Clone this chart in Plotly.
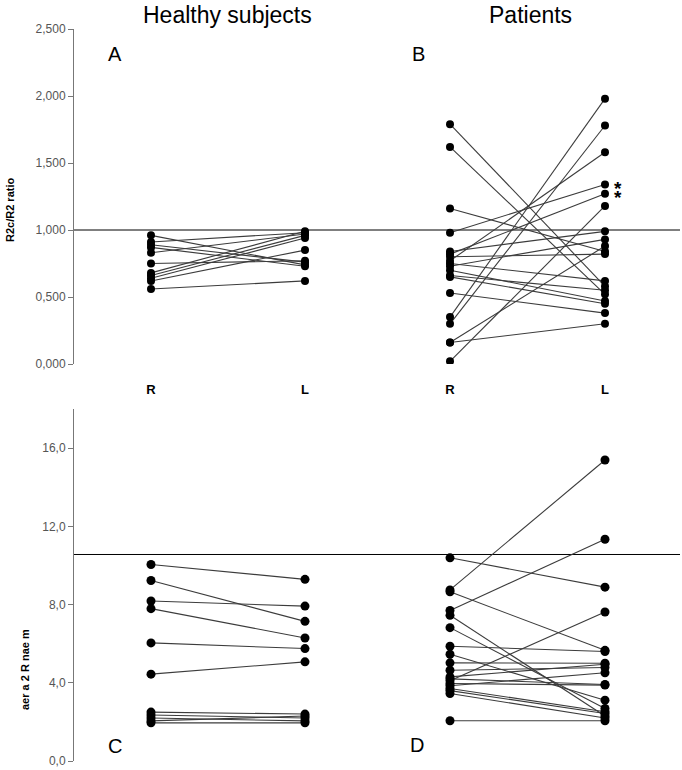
import plotly.graph_objects as go

# ---------------- data ----------------
sides = ["R", "L"]
groups = ["Healthy subjects", "Patients"]
panel_letters = ["A", "B", "C", "D"]

# R2c/R2 ratio, healthy subjects (R side, L side)
ratio_healthy_R = [0.96, 0.91, 0.89, 0.87, 0.83, 0.75, 0.68, 0.66, 0.64, 0.62, 0.56]
ratio_healthy_L = [0.74, 0.98, 0.76, 0.73, 0.97, 0.77, 0.99, 0.96, 0.94, 0.85, 0.62]

# R2c/R2 ratio, patients
ratio_pat_R = [1.79, 1.62, 1.16, 0.98, 0.84, 0.82, 0.80, 0.77, 0.75, 0.73,
               0.70, 0.66, 0.65, 0.53, 0.35, 0.30, 0.16, 0.16, 0.02]
ratio_pat_L = [0.58, 0.52, 0.84, 1.34, 0.99, 1.27, 0.82, 1.58, 0.62, 0.93,
               0.47, 0.55, 0.45, 0.38, 1.98, 1.78, 0.30, 0.88, 1.18]
starred_L = [1.34, 1.27]

# Area of R2, healthy subjects
area_healthy_R = [10.05, 9.23, 8.18, 7.79, 6.04, 4.44, 2.50, 2.35, 2.20, 2.05, 1.95]
area_healthy_L = [9.29, 7.14, 7.92, 6.29, 5.75, 5.07, 2.40, 2.20, 2.05, 2.30, 1.95]

# Area of R2, patients
area_pat_R = [10.39, 8.75, 8.65, 7.70, 7.45, 6.82, 5.87, 5.46, 5.02, 4.64,
              4.30, 4.20, 4.10, 3.96, 3.85, 3.71, 3.60, 3.45, 2.06]
area_pat_L = [8.89, 15.39, 5.66, 11.34, 2.30, 2.69, 5.60, 3.11, 5.00, 4.78,
              4.95, 3.91, 7.62, 3.88, 4.51, 2.52, 2.43, 2.20, 2.06]

ratio_ref = 1.0
area_ref = 10.56

ratio_ticks = [0.0, 0.5, 1.0, 1.5, 2.0, 2.5]
ratio_ticktext = ["0,000", "0,500", "1,000", "1,500", "2,000", "2,500"]
area_ticks = [0, 4, 8, 12, 16]
area_ticktext = ["0,0", "4,0", "8,0", "12,0", "16,0"]

ratio_title = "R2c/R2 ratio"
area_title = "aer a 2 R nae m"

# ---------------- figure ----------------
W, H = 682, 770
ML, MR, MT, MB = 74, 2, 29, 9
PW, PH = W - ML - MR, H - MT - MB


def px_x(p):
    return (p - ML) / PW


def px_y(p):
    return (H - MB - p) / PH


fig = go.Figure()

FONT = "Liberation Sans, Arial, sans-serif"
LINE_C = "#3c3c3c"


def pair_trace(rv, lv, xa, ya, msize):
    xs, ys = [], []
    for r, l in zip(rv, lv):
        xs += [sides[0], sides[1], None]
        ys += [r, l, None]
    return go.Scatter(x=xs, y=ys, mode="lines+markers", xaxis=xa, yaxis=ya,
                      line=dict(color=LINE_C, width=1.1),
                      marker=dict(color="black", size=msize),
                      showlegend=False, hoverinfo="skip", connectgaps=False)


fig.add_trace(pair_trace(ratio_healthy_R, ratio_healthy_L, "x", "y", 8))
fig.add_trace(pair_trace(ratio_pat_R, ratio_pat_L, "x2", "y2", 8))
fig.add_trace(pair_trace(area_healthy_R, area_healthy_L, "x3", "y3", 9))
fig.add_trace(pair_trace(area_pat_R, area_pat_L, "x4", "y4", 9))

left_dom = [0, px_x(380)]
right_dom = [px_x(380), 1]
top_dom = [px_y(364), 1]
bot_dom = [0, px_y(409)]

left_range = [-(151 - ML) / 154, 1 + (380 - 305) / 154]
right_range = [-(450 - 380) / 155, 1 + (680 - 605) / 155]

xcommon = dict(type="category", categoryorder="array", categoryarray=sides,
               showgrid=False, zeroline=False, showline=False, ticks="",
               fixedrange=True)

fig.update_layout(
    width=W, height=H,
    margin=dict(l=ML, r=MR, t=MT, b=MB),
    paper_bgcolor="white", plot_bgcolor="white",
    font=dict(family=FONT),
    xaxis=dict(domain=left_dom, range=left_range, anchor="y",
               showticklabels=True, tickfont=dict(size=13, color="black", weight="bold"),
               ticklabelstandoff=16, **xcommon),
    xaxis2=dict(domain=right_dom, range=right_range, anchor="y2",
                showticklabels=True, tickfont=dict(size=13, color="black", weight="bold"),
                ticklabelstandoff=16, **xcommon),
    xaxis3=dict(domain=left_dom, range=left_range, anchor="y3",
                showticklabels=False, **xcommon),
    xaxis4=dict(domain=right_dom, range=right_range, anchor="y4",
                showticklabels=False, **xcommon),
    yaxis=dict(domain=top_dom, range=[0, 2.5], anchor="x",
               tickvals=ratio_ticks, ticktext=ratio_ticktext,
               ticks="outside", ticklen=5, tickcolor="#777", tickwidth=1,
               showline=True, linecolor="#777", linewidth=1,
               tickfont=dict(size=12, color="#555"),
               showgrid=False, zeroline=False),
    yaxis2=dict(domain=top_dom, range=[0, 2.5], anchor="x2", visible=False),
    yaxis3=dict(domain=bot_dom, range=[0, 18], anchor="x3",
                tickvals=area_ticks, ticktext=area_ticktext,
                ticks="outside", ticklen=5, tickcolor="#777", tickwidth=1,
                showline=True, linecolor="#777", linewidth=1,
                tickfont=dict(size=12, color="#555"),
                showgrid=False, zeroline=False),
    yaxis4=dict(domain=bot_dom, range=[0, 18], anchor="x4", visible=False),
)

# reference lines spanning both panels
fig.add_shape(type="line", xref="paper", yref="y", x0=0, x1=1,
              y0=ratio_ref, y1=ratio_ref, line=dict(color="black", width=1), layer="below")
fig.add_shape(type="line", xref="paper", yref="y3", x0=0, x1=1,
              y0=area_ref, y1=area_ref, line=dict(color="black", width=1), layer="below")

# group titles
for g, cx in zip(groups, [227, 530]):
    fig.add_annotation(text=g, xref="paper", yref="paper", x=px_x(cx), y=px_y(15),
                       showarrow=False, xanchor="center", yanchor="middle",
                       font=dict(size=23, color="black", family=FONT))

# panel letters
for letter, (cx, cy) in zip(panel_letters, [(115, 54), (418, 54), (115, 746), (417, 745)]):
    fig.add_annotation(text=letter, xref="paper", yref="paper", x=px_x(cx), y=px_y(cy),
                       showarrow=False, xanchor="center", yanchor="middle",
                       font=dict(size=20, color="black", family=FONT))

# y-axis titles
fig.add_annotation(text=ratio_title, xref="paper", yref="paper", x=px_x(10), y=px_y(210),
                   textangle=-90, showarrow=False, xanchor="center", yanchor="middle",
                   font=dict(size=11, color="#000000", family=FONT, weight="bold"))
fig.add_annotation(text=area_title, xref="paper", yref="paper", x=px_x(25), y=px_y(670),
                   textangle=-90, showarrow=False, xanchor="center", yanchor="middle",
                   font=dict(size=11, color="#000000", family=FONT, weight="bold"))

# asterisks
for v in starred_L:
    fig.add_annotation(text="*", xref="x2", yref="y2", x=sides[1], y=v,
                       xshift=13, yshift=-4, showarrow=False,
                       font=dict(size=19, color="black", family=FONT, weight="bold"))

fig.write_html("out.html",
               config={"displayModeBar": False, "staticPlot": True},
               post_script="document.body.style.margin='0';document.body.style.overflow='hidden';")
